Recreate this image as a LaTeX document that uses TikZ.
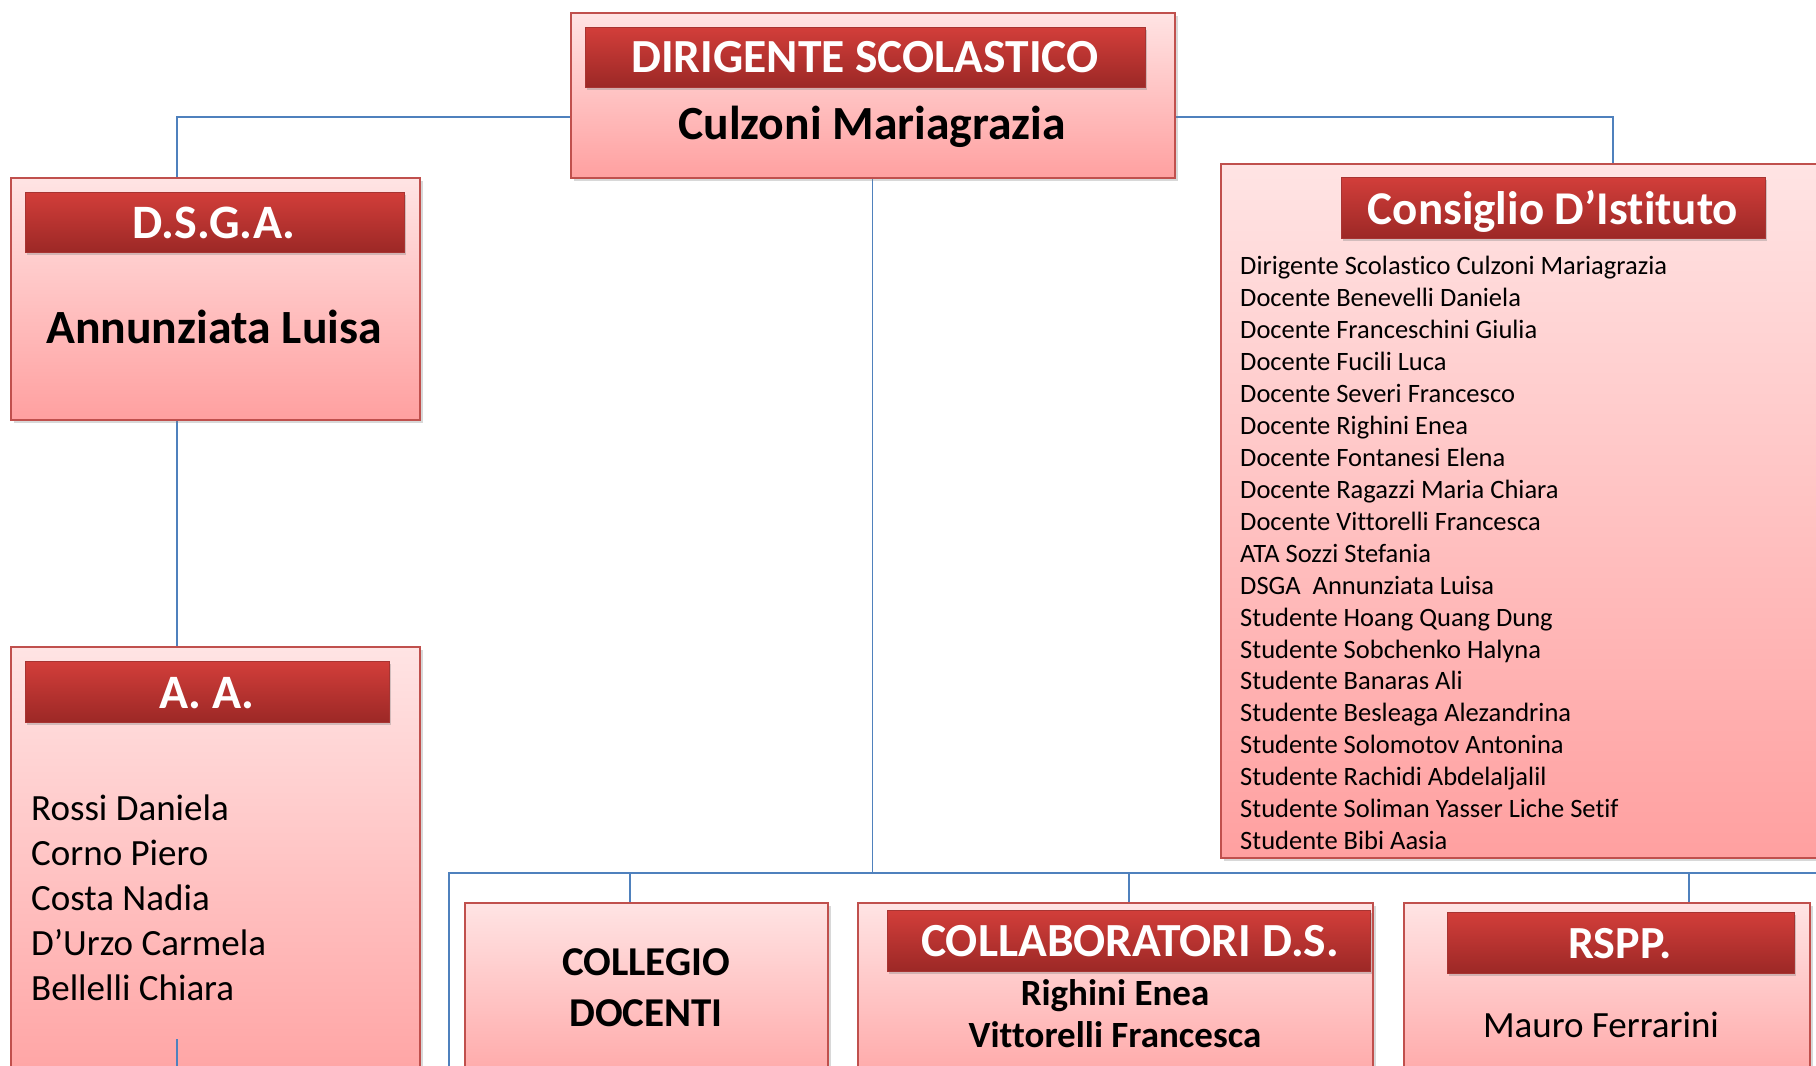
\documentclass[tikz,border=0pt]{standalone}
\usepackage{fontspec}
\setmainfont{Carlito}[Ligatures=NoCommon]
\usetikzlibrary{shadows,calc}
\definecolor{boxborder}{RGB}{192,80,77}
\definecolor{boxtop}{RGB}{255,228,228}
\definecolor{boxbot}{RGB}{255,160,160}
\definecolor{hdrtop}{RGB}{210,62,58}
\definecolor{hdrbot}{RGB}{156,40,38}
\definecolor{connc}{RGB}{79,129,189}
\pgfdeclarelayer{bg}
\pgfsetlayers{bg,main}
\tikzset{
  orgbox/.style={draw=boxborder, line width=1.5pt, top color=boxtop, bottom color=boxbot,
    drop shadow={opacity=0.3, shadow xshift=3pt, shadow yshift=-3pt},
    inner sep=0pt, anchor=north west},
  hdrbar/.style={draw=hdrbot!70!boxborder, line width=0.6pt, top color=hdrtop, bottom color=hdrbot,
    drop shadow={opacity=0.35, shadow xshift=2pt, shadow yshift=-3pt},
    inner sep=0pt, anchor=north west},
  conn/.style={draw=connc, line width=1.4pt},
  lbl/.style={anchor=base, inner sep=0pt},
  hdrtxt/.style={lbl, text=white, font=\bfseries},
  listtxt/.style={anchor=base west, inner sep=0pt}
}
\begin{document}
\begin{tikzpicture}[x=1pt,y=1pt]
\useasboundingbox (0,0) rectangle (1816,-1066);
\clip (0,0) rectangle (1816,-1066);

% ---- boxes ----
\node[orgbox, minimum width=604pt, minimum height=165pt] (ds) at (570,-12) {};
\node[hdrbar, minimum width=560pt, minimum height=60pt] (dsh) at (585,-27) {};
\node[hdrtxt, font=\fontsize{47.5}{50}\bfseries\selectfont] (dst) at (865,-72) {DIRIGENTE SCOLASTICO};
\node[lbl, font=\fontsize{47.6}{52}\bfseries\selectfont] (dsn) at (872,-139) {Culzoni Mariagrazia};

\node[orgbox, minimum width=409pt, minimum height=242pt] (dsga) at (10,-177) {};
\node[hdrbar, minimum width=379pt, minimum height=60pt] (dsgah) at (25,-192) {};
\node[hdrtxt, font=\fontsize{48}{50}\bfseries\selectfont] (dsgat) at (214,-238) {D.S.G.A.};
\node[lbl, font=\fontsize{47.7}{52}\bfseries\selectfont] (dsgan) at (214,-343) {Annunziata Luisa};

\node[orgbox, minimum width=409pt, minimum height=460pt] (aa) at (10,-646) {};
\node[hdrbar, minimum width=364pt, minimum height=61pt] (aah) at (25,-661) {};
\node[hdrtxt, font=\fontsize{48}{50}\bfseries\selectfont] (aat) at (207,-708) {A. A.};
\node[listtxt, font=\fontsize{37}{45}\selectfont, align=left, anchor=north west] (aan) at (31,-795)
  {Rossi Daniela\\Corno Piero\\Costa Nadia\\D’Urzo Carmela\\Bellelli Chiara};

\node[orgbox, minimum width=620pt, minimum height=694pt] (cons) at (1220,-163) {};
\node[hdrbar, minimum width=424pt, minimum height=61pt] (consh) at (1341,-177) {};
\node[hdrtxt, font=\fontsize{47}{52}\bfseries\selectfont] (const) at (1553,-224) {Consiglio D’Istituto};
\node[listtxt, font=\fontsize{26.5}{31.95}\selectfont, align=left, anchor=north west] (consl) at (1240,-256)
  {Dirigente Scolastico Culzoni Mariagrazia\\
   Docente Benevelli Daniela\\
   Docente Franceschini Giulia\\
   Docente Fucili Luca\\
   Docente Severi Francesco\\
   Docente Righini Enea\\
   Docente Fontanesi Elena\\
   Docente Ragazzi Maria Chiara\\
   Docente Vittorelli Francesca\\
   ATA Sozzi Stefania\\
   DSGA\ \ Annunziata Luisa\\
   Studente Hoang Quang Dung\\
   Studente Sobchenko Halyna\\
   Studente Banaras Ali\\
   Studente Besleaga Alezandrina\\
   Studente Solomotov Antonina\\
   Studente Rachidi Abdelaljalil\\
   Studente Soliman Yasser Liche Setif\\
   Studente Bibi Aasia};

\node[orgbox, minimum width=363pt, minimum height=200pt] (cd) at (464,-902) {};
\node[lbl, font=\fontsize{41}{45}\bfseries\selectfont] (cd1) at (646,-975) {COLLEGIO};
\node[lbl, font=\fontsize{41}{45}\bfseries\selectfont] (cd2) at (646,-1026) {DOCENTI};

\node[orgbox, minimum width=515pt, minimum height=200pt] (col) at (857,-902) {};
\node[hdrbar, minimum width=483pt, minimum height=61pt] (colh) at (887,-910) {};
\node[hdrtxt, font=\fontsize{47.5}{50}\bfseries\selectfont] (colt) at (1130,-956) {COLLABORATORI D.S.};
\node[lbl, font=\fontsize{37}{42}\bfseries\selectfont] (col1) at (1115,-1005) {Righini Enea};
\node[lbl, font=\fontsize{37}{42}\bfseries\selectfont] (col2) at (1115,-1047) {Vittorelli Francesca};

\node[orgbox, minimum width=406pt, minimum height=200pt] (rspp) at (1403,-902) {};
\node[hdrbar, minimum width=347pt, minimum height=61pt] (rspph) at (1447,-912) {};
\node[hdrtxt, font=\fontsize{46}{48}\bfseries\selectfont] (rsppt) at (1620,-958) {RSPP.};
\node[lbl, font=\fontsize{37}{42}\selectfont] (rsppn) at (1601,-1037) {Mauro Ferrarini};

% ---- connectors ----
\coordinate (busL) at (449,-873);
\coordinate (busR) at (1816,-873);
\coordinate (busLdown) at (449,-1080);
\coordinate (aaout) at (177,-1080);
\begin{pgfonlayer}{bg}
\fill[white] (0,0) rectangle (1816,-1066);
\draw[conn] ($(ds.north west)+(0,-105)$) -| ($(dsga.north west)+(167,0)$);
\draw[conn] ($(ds.north east)+(0,-105)$) -| ($(cons.north west)+(393,0)$);
\draw[conn] ($(dsga.south west)+(167,0)$) -- ($(aa.north west)+(167,0)$);
\draw[conn] (ds.south) -- (ds.south |- busL);
\draw[conn] (busLdown) -- (busL) -- (busR);
\draw[conn] (cd.north west -| 630,0) -- (630,-873);
\draw[conn] (col.north west -| 1129,0) -- (1129,-873);
\draw[conn] (rspp.north west -| 1689,0) -- (1689,-873);
\end{pgfonlayer}
\draw[conn] ($(aa.north west)+(167,-393)$) -- (aaout);
\end{tikzpicture}
\end{document}
